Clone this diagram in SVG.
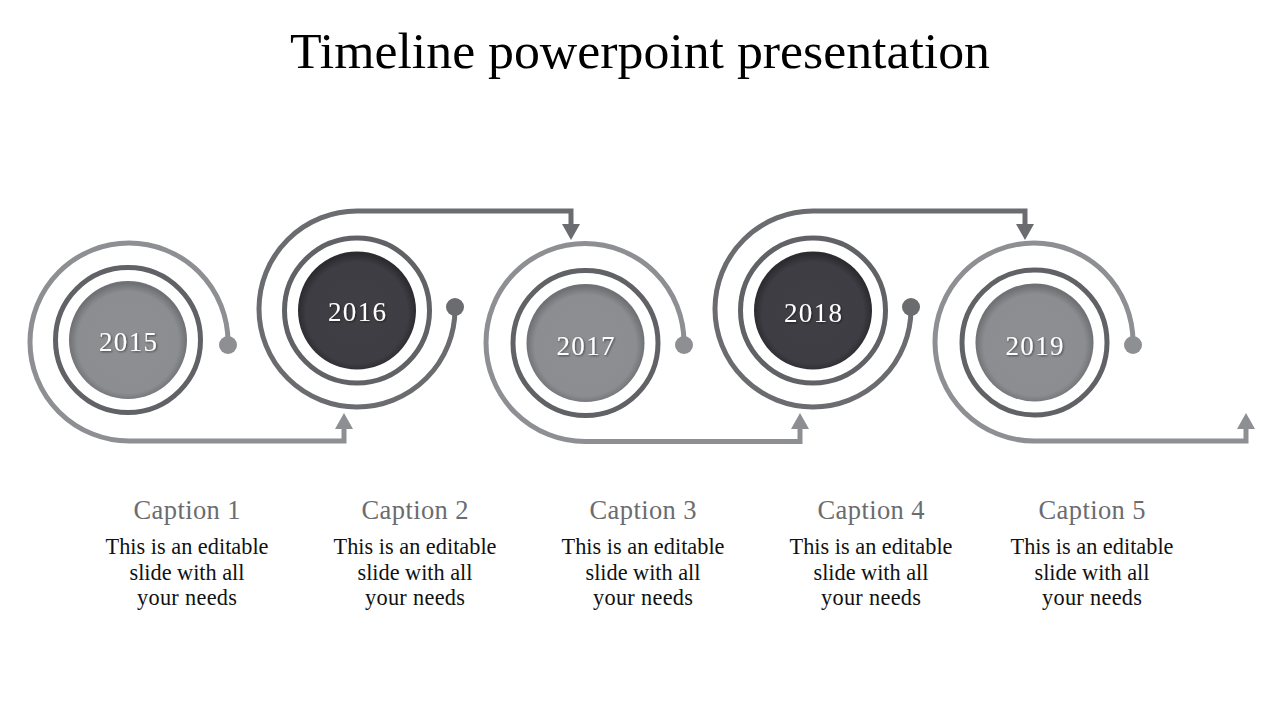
<svg xmlns="http://www.w3.org/2000/svg" width="1280" height="720" viewBox="0 0 1280 720">
<defs>
<style>
.title{font-family:"Liberation Serif","DejaVu Serif",serif;font-size:50px;fill:#000;text-anchor:middle}
.year{font-family:"Liberation Serif","DejaVu Serif",serif;font-size:27px;fill:#fff;text-anchor:middle}
.cap{font-family:"Liberation Serif","DejaVu Serif",serif;font-size:26.5px;fill:#6b6c70;text-anchor:middle}
.body{font-family:"Liberation Serif","DejaVu Serif",serif;font-size:22.3px;fill:#111;text-anchor:middle}
.ring{fill:none;stroke:#606266;stroke-width:5}
.sp-light{fill:none;stroke:#8d8f93;stroke-width:5;marker-end:url(#arLight)}
.sp-dark{fill:none;stroke:#6b6c70;stroke-width:5;marker-end:url(#arDark)}
.dot-light{fill:#8d8f93}
.dot-dark{fill:#6b6c70}
.fill-light{fill:url(#gLight)}
.fill-dark{fill:url(#gDark)}
</style>
<radialGradient id="gLight" cx="0.5" cy="0.52" r="0.5">
<stop offset="0" stop-color="#8d8f93"/>
<stop offset="0.86" stop-color="#8b8d91"/>
<stop offset="1" stop-color="#6f7175"/>
</radialGradient>
<radialGradient id="gDark" cx="0.5" cy="0.52" r="0.5">
<stop offset="0" stop-color="#403f45"/>
<stop offset="0.86" stop-color="#3e3d43"/>
<stop offset="1" stop-color="#2c2b30"/>
</radialGradient>
<marker id="arLight" markerUnits="userSpaceOnUse" markerWidth="16" markerHeight="18" viewBox="0 0 16 18" refX="1" refY="9" orient="auto">
<path d="M0,0 L16,9 L0,18 Z" fill="#8d8f93"/>
</marker>
<marker id="arDark" markerUnits="userSpaceOnUse" markerWidth="16" markerHeight="18" viewBox="0 0 16 18" refX="1" refY="9" orient="auto">
<path d="M0,0 L16,9 L0,18 Z" fill="#6b6c70"/>
</marker>
<filter id="ts" x="-20%" y="-20%" width="140%" height="140%">
<feDropShadow dx="1" dy="1" stdDeviation="0.8" flood-color="#000" flood-opacity="0.5"/>
</filter>
</defs>
<rect width="1280" height="720" fill="#fff"/>
<text class="title" x="640" y="68" textLength="700" lengthAdjust="spacingAndGlyphs">Timeline powerpoint presentation</text>

<g id="connectors">
<path class="sp-light" d="M228,345 L228,342 A99 99 0 1 0 129,441 L344,441 L344,428"/>
<path class="sp-dark" d="M455,307 L455,309 A98 98 0 1 1 357,211 L571,211 L571,225"/>
<path class="sp-light" d="M684,345 L684,342.5 A99 99 0 1 0 585,441.5 L800,441.5 L800,428"/>
<path class="sp-dark" d="M911,307 L911,309 A98 98 0 1 1 813,211 L1025,211 L1025,225"/>
<path class="sp-light" d="M1133,345 L1133,342 A99 99 0 1 0 1034,441 L1246,441 L1246,428"/>
<circle class="dot-light" cx="228" cy="345" r="9"/>
<circle class="dot-dark" cx="455" cy="307" r="9"/>
<circle class="dot-light" cx="684" cy="345" r="9"/>
<circle class="dot-dark" cx="911" cy="307" r="9"/>
<circle class="dot-light" cx="1133" cy="345" r="9"/>
</g>

<g id="node-2015">
<circle class="ring" cx="128" cy="340" r="72.5"/>
<circle class="fill-light" cx="128" cy="340" r="59"/>
<text class="year" x="128" y="351" textLength="58" filter="url(#ts)">2015</text>
</g>
<g id="node-2016">
<circle class="ring" cx="357" cy="310.5" r="72.5"/>
<circle class="fill-dark" cx="357" cy="310.5" r="59"/>
<text class="year" x="357" y="321" textLength="58" filter="url(#ts)">2016</text>
</g>
<g id="node-2017">
<circle class="ring" cx="585.5" cy="343" r="72.5"/>
<circle class="fill-light" cx="585.5" cy="343" r="59"/>
<text class="year" x="585.5" y="355" textLength="58" filter="url(#ts)">2017</text>
</g>
<g id="node-2018">
<circle class="ring" cx="813" cy="310.5" r="72.5"/>
<circle class="fill-dark" cx="813" cy="310.5" r="59"/>
<text class="year" x="813" y="321.5" textLength="58" filter="url(#ts)">2018</text>
</g>
<g id="node-2019">
<circle class="ring" cx="1034.5" cy="342.5" r="72.5"/>
<circle class="fill-light" cx="1034.5" cy="342.5" r="59"/>
<text class="year" x="1034.5" y="355" textLength="58" filter="url(#ts)">2019</text>
</g>

<g id="caption-1">
<text class="cap" x="187" y="519" textLength="107">Caption 1</text>
<text class="body" x="187" y="554" textLength="163">This is an editable</text>
<text class="body" x="187" y="580" textLength="115">slide with all</text>
<text class="body" x="187" y="605" textLength="100">your needs</text>
</g>
<g id="caption-2">
<text class="cap" x="415" y="519" textLength="107">Caption 2</text>
<text class="body" x="415" y="554" textLength="163">This is an editable</text>
<text class="body" x="415" y="580" textLength="115">slide with all</text>
<text class="body" x="415" y="605" textLength="100">your needs</text>
</g>
<g id="caption-3">
<text class="cap" x="643" y="519" textLength="107">Caption 3</text>
<text class="body" x="643" y="554" textLength="163">This is an editable</text>
<text class="body" x="643" y="580" textLength="115">slide with all</text>
<text class="body" x="643" y="605" textLength="100">your needs</text>
</g>
<g id="caption-4">
<text class="cap" x="871" y="519" textLength="107">Caption 4</text>
<text class="body" x="871" y="554" textLength="163">This is an editable</text>
<text class="body" x="871" y="580" textLength="115">slide with all</text>
<text class="body" x="871" y="605" textLength="100">your needs</text>
</g>
<g id="caption-5">
<text class="cap" x="1092" y="519" textLength="107">Caption 5</text>
<text class="body" x="1092" y="554" textLength="163">This is an editable</text>
<text class="body" x="1092" y="580" textLength="115">slide with all</text>
<text class="body" x="1092" y="605" textLength="100">your needs</text>
</g>
</svg>
